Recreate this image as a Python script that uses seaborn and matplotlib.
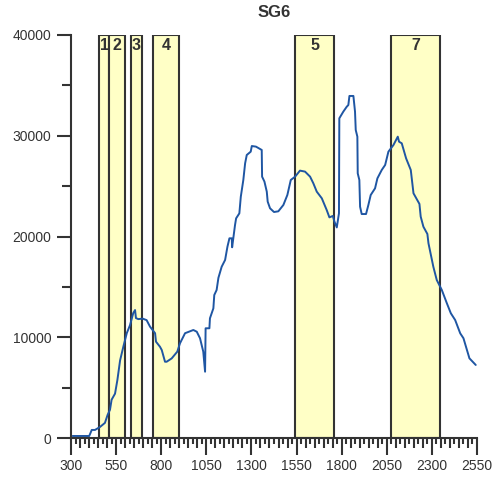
import matplotlib

matplotlib.use("Agg")
import matplotlib.pyplot as plt
import seaborn as sns
from matplotlib.ticker import FuncFormatter, MultipleLocator

# spectrum (x = wavelength, y = signal)
wavelength = [
    309, 401, 415, 433, 461, 488, 503, 516, 525, 544, 557, 572, 590, 609, 627, 645, 655, 660, 673,
    697, 719, 738, 766, 771, 793, 803, 821, 830, 858, 889, 904, 932, 978, 997, 1015, 1033, 1043,
    1046, 1067, 1070, 1089, 1094, 1107, 1117, 1135, 1154, 1167, 1178, 1191, 1193, 1209, 1215, 1233,
    1241, 1255, 1265, 1274, 1296, 1302, 1325, 1357, 1359, 1372, 1385, 1390, 1403, 1425, 1449, 1477,
    1499, 1518, 1542, 1569, 1597, 1625, 1643, 1662, 1690, 1717, 1732, 1751, 1760, 1773, 1785, 1787,
    1809, 1828, 1837, 1843, 1865, 1874, 1878, 1887, 1889, 1898, 1902, 1911, 1935, 1948, 1961, 1985,
    1998, 2022, 2041, 2059, 2087, 2111, 2118, 2133, 2157, 2183, 2198, 2231, 2238, 2253, 2275, 2281,
    2308, 2327, 2355, 2383, 2405, 2429, 2457, 2475, 2508, 2543,
]
signal = [
    200, 200, 800, 800, 1100, 1500, 2300, 2800, 3800, 4400, 5750, 7700, 9060, 10400, 11200, 12400,
    12700, 11900, 11800, 11850, 11700, 11050, 10400, 9560, 9060, 8730, 7570, 7570, 7900, 8570, 9400,
    10400, 10720, 10550, 9900, 8570, 6580, 10890, 10890, 11880, 12870, 14190, 14690, 15900, 17000,
    17670, 18990, 19820, 19820, 18930, 21140, 21800, 22300, 23950, 25610, 27270, 28090, 28420, 28980,
    28920, 28590, 25940, 25450, 24450, 23460, 22800, 22430, 22500, 23130, 24120, 25610, 25940, 26540,
    26440, 25940, 25280, 24450, 23790, 22630, 21900, 22040, 21470, 20900, 22300, 31730, 32390, 32880,
    33050, 33950, 33950, 32390, 30570, 29910, 26270, 25610, 22960, 22230, 22230, 23130, 24120, 24780,
    25770, 26600, 27100, 28420, 29080, 29910, 29410, 29250, 27760, 26600, 24290, 23230, 21970, 20970,
    20250, 19330, 17000, 15680, 14690, 13370, 12380, 11710, 10390, 9900, 7910, 7250,
]

# highlighted bands
band_labels = ["1", "2", "3", "4", "5", "7"]
band_start = [457, 512, 633, 756, 1543, 2076]
band_end = [512, 601, 692, 900, 1756, 2344]


def is_label_tick(v):
    return int(round(v)) % 250 == 50


sns.set_style("ticks")
plt.rcParams["font.family"] = ["Liberation Sans", "DejaVu Sans"]

fig = plt.figure(figsize=(4.97, 4.82), dpi=100)
ax = fig.add_axes([71 / 497, 1 - 438 / 482, 406 / 497, 403 / 482])

for lab, s, e in zip(band_labels, band_start, band_end):
    ax.axvspan(s, e, ymin=0, ymax=1, facecolor="#ffffc6", edgecolor="#333333", lw=1.5, zorder=1)
    ax.text((s + e) / 2, 39750, lab, ha="center", va="top", fontsize=11.5, fontweight="bold",
            color="#333333", zorder=3)

sns.lineplot(x=wavelength, y=signal, ax=ax, color="#1f56a3", lw=1.4, estimator=None, sort=False,
             zorder=2)

ax.set_xlim(300, 2550)
ax.set_ylim(0, 40000)
ax.xaxis.set_major_locator(MultipleLocator(50))
ax.xaxis.set_minor_locator(MultipleLocator(25))
ax.xaxis.set_major_formatter(FuncFormatter(lambda v, p: f"{int(round(v))}" if is_label_tick(v) else ""))
ax.yaxis.set_major_locator(MultipleLocator(10000))
ax.yaxis.set_minor_locator(MultipleLocator(5000))

for side in ["top", "right"]:
    ax.spines[side].set_visible(False)
for side in ["left", "bottom"]:
    ax.spines[side].set_color("#333333")
    ax.spines[side].set_linewidth(1.5)

ax.tick_params(axis="both", which="both", color="#333333", width=1.5, labelsize=10,
               labelcolor="#333333")
ax.tick_params(axis="y", which="major", length=10, pad=4)
ax.tick_params(axis="y", which="minor", length=6.5)
ax.tick_params(axis="x", which="major", length=7, pad=8)
ax.tick_params(axis="x", which="minor", length=4.5)
fig.canvas.draw()
for t in ax.xaxis.get_major_ticks():
    if is_label_tick(t.get_loc()):
        t.tick1line.set_markersize(12)

ax.set_xlabel("")
ax.set_ylabel("")
ax.set_title("SG6", fontsize=12, fontweight="bold", color="#333333", pad=13)

fig.savefig("out.png", dpi=100)
